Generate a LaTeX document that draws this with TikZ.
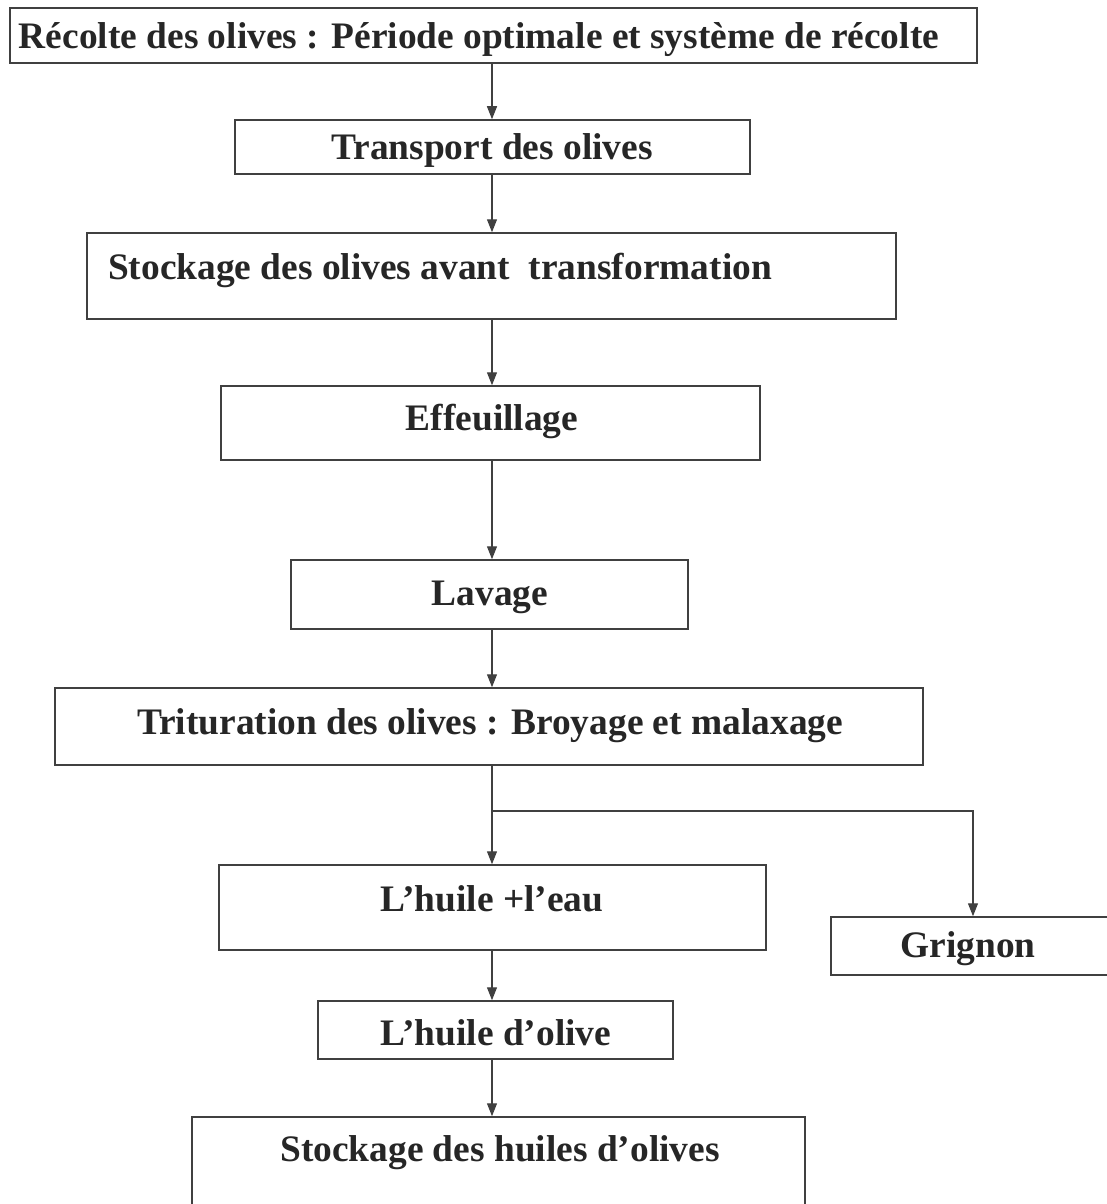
\documentclass[tikz,border=0pt]{standalone}
\usepackage{fontspec}
\setmainfont{Liberation Serif}
\usetikzlibrary{arrows.meta}
\definecolor{ink}{HTML}{404040}
\begin{document}
\begin{tikzpicture}[x=1pt,y=-1pt,
  box/.style={draw=ink,line width=1.5pt,rectangle,inner sep=0pt},
  txt/.style={font=\fontsize{37.4}{42}\selectfont\bfseries,text=black!85,inner sep=0pt,anchor=base},
  arr/.style={draw=ink,line width=1.3pt,-{Triangle[length=13pt,width=10pt]}}]
\useasboundingbox (0,0) rectangle (1106,1204);
\newcommand{\bx}[5]{\node[box,minimum width={#4-#2},minimum height={#5-#3}] (#1) at ({(#2+#4)/2},{(#3+#5)/2}) {};}
\bx{b1}{10}{8}{977}{63}
\bx{b2}{235}{120}{750}{174}
\bx{b3}{87}{233}{896}{319}
\bx{b4}{221}{386}{760}{460}
\bx{b5}{291}{560}{688}{629}
\bx{b6}{55}{688}{923}{765}
\bx{b7}{219}{865}{766}{950}
\bx{b8}{831}{917}{1110}{975}
\bx{b9}{318}{1001}{673}{1059}
\bx{b10}{192}{1117}{805}{1208}
\node[txt] (t1) at (479,49) {Récolte des olives : Période optimale et système de récolte};
\node[txt] (t2) at (492,159) {Transport des olives};
\node[txt] (t3) at (440,279) {Stockage des olives avant\ \ transformation};
\node[txt] (t4) at (492,430) {Effeuillage};
\node[txt] (t5) at (490,605) {Lavage};
\node[txt] (t6) at (490,734) {Trituration des olives : Broyage et malaxage};
\node[txt] (t7) at (492,911) {L’huile +l’eau};
\node[txt] (t8) at (968,957) {Grignon};
\node[txt] (t9) at (496,1045) {L’huile d’olive};
\node[txt] (t10) at (500,1161) {Stockage des huiles d’olives};
\coordinate (ax) at (492,0);
\draw[arr] (ax |- b1.south) -- (ax |- b2.north);
\draw[arr] (ax |- b2.south) -- (ax |- b3.north);
\draw[arr] (ax |- b3.south) -- (ax |- b4.north);
\draw[arr] (ax |- b4.south) -- (ax |- b5.north);
\draw[arr] (ax |- b5.south) -- (ax |- b6.north);
\draw[arr] (ax |- b6.south) -- (ax |- b7.north);
\coordinate (j) at (492,811);
\coordinate (g) at (973,0);
\draw[arr] (j) -| (g |- b8.north);
\draw[arr] (ax |- b7.south) -- (ax |- b9.north);
\draw[arr] (ax |- b9.south) -- (ax |- b10.north);
\end{tikzpicture}
\end{document}
